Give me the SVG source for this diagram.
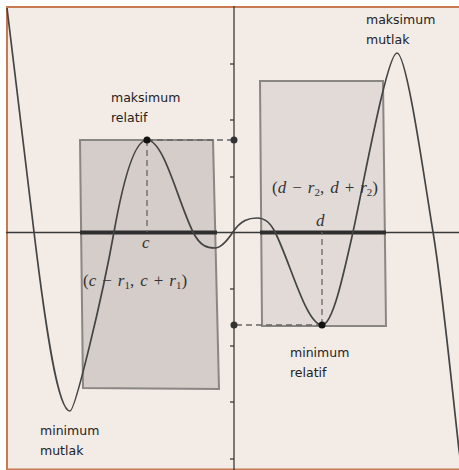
<svg xmlns="http://www.w3.org/2000/svg" width="459" height="470" viewBox="0 0 459 470">
  <style>
    .lbl { font-family: "DejaVu Sans", "Liberation Sans", sans-serif; font-size: 12.5px; fill: #222; }
    .math { font-family: "Liberation Serif", "DejaVu Serif", serif; font-size: 17px; fill: #333; }
    .it { font-style: italic; }
    .sub { font-size: 11px; }
    .rect { stroke: #8a8684; stroke-width: 2; }
    .axis { stroke: #3a3a3a; stroke-width: 1.3; fill: none; }
    .tick { stroke: #3a3a3a; stroke-width: 1.3; }
    .thick { stroke: #2e2e2e; stroke-width: 4; }
    .dash { stroke: #666; stroke-width: 1.3; stroke-dasharray: 6 4; fill: none; }
    .curve { stroke: #444; stroke-width: 1.7; fill: none; }
  </style>
  <rect x="0" y="0" width="459" height="470" fill="#ffffff"/>
  <rect x="6" y="6" width="453" height="464" fill="#f3ebe6"/>
  <g id="frame" stroke="#c87a52" stroke-width="2">
    <line x1="6" y1="7" x2="459" y2="7"/>
    <line x1="7" y1="6" x2="7" y2="470"/>
    <line x1="6" y1="469.5" x2="459" y2="469.5"/>
  </g>

  <g id="box-left">
    <polygon class="rect" points="80,140 213,140 219,389 83,388" fill="#d5cdca"/>
  </g>
  <g id="box-right">
    <polygon class="rect" points="260,81 383,81 386,326 262,326" fill="#e1dad6"/>
  </g>

  <g id="axes">
    <line class="axis" x1="6" y1="232.5" x2="459" y2="232.5"/>
    <line class="axis" x1="234" y1="6" x2="234" y2="470"/>
    <g id="ticks">
      <line class="tick" x1="230" y1="64" x2="234" y2="64"/>
      <line class="tick" x1="230" y1="120" x2="234" y2="120"/>
      <line class="tick" x1="230" y1="177" x2="234" y2="177"/>
      <line class="tick" x1="230" y1="289" x2="234" y2="289"/>
      <line class="tick" x1="230" y1="346" x2="234" y2="346"/>
      <line class="tick" x1="230" y1="402" x2="234" y2="402"/>
      <line class="tick" x1="230" y1="459" x2="234" y2="459"/>
    </g>
  </g>

  <g id="connectors">
    <line class="thick" x1="80" y1="232.5" x2="217" y2="232.5"/>
    <line class="thick" x1="260" y1="232.5" x2="386" y2="232.5"/>
    <path class="dash" d="M147,140 H234 M147,140 V232"/>
    <path class="dash" d="M322,325 H234 M322,325 V232"/>
  </g>

  <g id="curve">
    <path class="curve" d="M7,8 C16,82.7 25,157.3 34,232 C46,331.6 58,411 70,411 C75,411 102,299 114,232 C125,170.4 136,140 147,140 C164,140 177.7,201 193,232 C200.3,246.7 207.7,248 215,248 C221,248 227,241 233,232 C241,220 249,218 257,218 C263,218 269,220 275,232 C290.7,263.3 306.3,325 322,325 C332.3,325 342.7,278.5 353,232 C363,187 387,53 397,53 C407,53 425,184 433,232 C441.7,284 450.3,372 459,450 L462,470"/>
  </g>

  <g id="points">
    <circle id="max-rel" cx="147" cy="140" r="3.5" fill="#111"/>
    <circle id="min-rel" cx="322" cy="325" r="3.5" fill="#111"/>
    <circle id="y-max" cx="234" cy="140" r="3.5" fill="#333"/>
    <circle id="y-min" cx="234" cy="325" r="3.5" fill="#333"/>
  </g>

  <g id="label-maks-relatif">
    <text class="lbl" x="111" y="102">maksimum</text>
    <text class="lbl" x="111" y="122">relatif</text>
  </g>
  <g id="label-maks-mutlak">
    <text class="lbl" x="366" y="24">maksimum</text>
    <text class="lbl" x="366" y="44">mutlak</text>
  </g>
  <g id="label-min-relatif">
    <text class="lbl" x="290" y="357">minimum</text>
    <text class="lbl" x="290" y="377">relatif</text>
  </g>
  <g id="label-min-mutlak">
    <text class="lbl" x="40" y="435">minimum</text>
    <text class="lbl" x="40" y="455">mutlak</text>
  </g>

  <g id="label-c">
    <text class="math it" x="142" y="248">c</text>
  </g>
  <g id="label-d">
    <text class="math it" x="316" y="226">d</text>
  </g>
  <g id="label-interval-c">
    <text class="math" x="83" y="286">(<tspan class="it">c</tspan><tspan dx="6">−</tspan><tspan class="it" dx="6">r</tspan><tspan class="sub" dy="3">1</tspan><tspan dy="-3">,</tspan><tspan class="it" dx="6">c</tspan><tspan dx="6">+</tspan><tspan class="it" dx="6">r</tspan><tspan class="sub" dy="3">1</tspan><tspan dy="-3">)</tspan></text>
  </g>
  <g id="label-interval-d">
    <text class="math" x="272" y="193">(<tspan class="it">d</tspan><tspan dx="6">−</tspan><tspan class="it" dx="6">r</tspan><tspan class="sub" dy="3">2</tspan><tspan dy="-3">,</tspan><tspan class="it" dx="6">d</tspan><tspan dx="6">+</tspan><tspan class="it" dx="6">r</tspan><tspan class="sub" dy="3">2</tspan><tspan dy="-3">)</tspan></text>
  </g>
</svg>
